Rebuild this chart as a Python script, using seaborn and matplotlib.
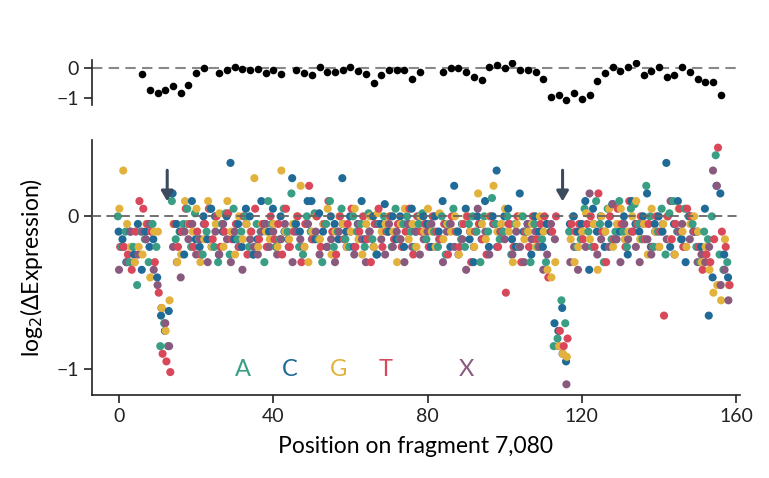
import numpy as np
import pandas as pd
import matplotlib
matplotlib.use("Agg")
import matplotlib.pyplot as plt
import seaborn as sns

nan = np.nan
top_idx = [0,1,2,3,4,5,6,7,8,10,11,12,13,14,15,16,17,18,20,21,22,23,24,25,26,27,28,29,30,31,32,33,34,35,36,39,40,41,42,43,44,45,46,47,48,49,50,51,52,53,54,55,56,57,58,59,60,61,62,63,64,65,66,67,68,69,70,71,72,73,74,75]
top_vals = [-0.2,-0.74,-0.84,-0.73,-0.6,-0.82,-0.56,-0.16,0.0,-0.16,-0.05,0.03,-0.03,-0.05,-0.03,-0.16,-0.05,-0.18,-0.07,-0.16,-0.22,0.05,-0.14,-0.14,-0.07,0.05,-0.1,-0.18,-0.48,-0.24,-0.05,-0.05,-0.07,-0.35,-0.14,-0.12,0.01,0.01,-0.14,-0.31,-0.39,0.03,0.12,0.01,0.16,-0.05,-0.07,-0.14,-0.35,-0.95,-0.88,-1.05,-0.82,-1.03,-0.9,-0.44,-0.16,0.05,-0.1,0.05,0.18,-0.22,-0.1,0.03,-0.29,-0.22,0.03,-0.12,-0.35,-0.46,-0.46,-0.9]
top_pos = [6 + 2*i for i in top_idx]

A = [0.0,-0.2,-0.1,-0.3,-0.2,-0.45,-0.1,-0.15,-0.3,-0.05,
-0.2,-0.85,-0.7,-0.85,0.1,-0.15,-0.1,-0.05,0.05,-0.2,
0.02,-0.15,-0.25,-0.1,0.05,-0.2,-0.3,-0.05,0.02,-0.25,
0.05,-0.15,-0.1,0.0,-0.2,-0.25,-0.05,-0.1,-0.3,0.1,
-0.05,-0.2,-0.15,0.05,-0.1,0.15,-0.05,-0.2,-0.25,0.0,
-0.1,0.02,-0.15,-0.3,-0.05,0.1,-0.2,-0.1,0.05,-0.15,
-0.2,0.0,-0.1,-0.05,-0.2,0.02,-0.15,-0.25,-0.05,0.0,
-0.1,-0.2,0.05,-0.15,-0.05,0.0,-0.1,-0.2,-0.05,0.02,
-0.15,-0.05,-0.1,-0.2,0.0,-0.25,-0.05,0.05,-0.1,-0.15,
-0.2,-0.05,0.0,-0.1,-0.3,0.0,-0.1,0.12,-0.05,-0.15,
-0.1,0.0,-0.25,-0.05,-0.2,0.0,-0.1,-0.3,-0.05,-0.2,
-0.15,-0.3,nan,-0.85,-0.8,-0.55,-0.7,-0.1,0.0,-0.2,
-0.15,0.05,-0.1,-0.2,0.1,-0.05,-0.3,0.05,-0.15,-0.1,
0.1,-0.1,-0.2,0.05,0.08,-0.05,-0.15,0.2,0.0,-0.2,
-0.1,0.05,-0.25,0.02,0.1,-0.1,-0.15,0.05,0.0,-0.05,
-0.2,-0.3,-0.1,-0.15,0.0,0.4,-0.25,-0.35,-0.3,nan]
C = [-0.1,-0.15,-0.3,-0.1,-0.25,-0.05,-0.35,-0.1,-0.2,-0.15,
-0.4,-0.65,-0.75,-0.62,0.15,-0.05,-0.1,-0.25,-0.05,0.1,
-0.15,-0.2,0.0,-0.15,0.05,0.0,-0.25,-0.1,0.0,0.35,
-0.15,-0.05,-0.2,0.05,0.0,-0.25,-0.15,0.1,-0.05,-0.1,
0.05,-0.2,0.0,-0.1,-0.15,0.25,-0.05,-0.1,-0.2,0.1,
0.1,-0.15,0.02,-0.1,-0.2,0.0,-0.05,-0.15,0.25,-0.1,
0.0,-0.2,-0.05,0.1,-0.15,-0.1,0.0,-0.25,-0.05,0.08,
-0.1,0.0,-0.15,0.0,-0.2,-0.05,0.05,-0.1,0.0,0.0,
-0.05,-0.2,0.0,-0.1,0.1,-0.05,-0.2,0.2,-0.1,-0.05,
0.05,-0.15,-0.3,0.0,-0.05,0.1,-0.2,0.0,0.3,-0.1,
0.0,0.05,-0.15,-0.2,0.15,-0.1,-0.05,-0.25,0.0,-0.1,
-0.2,-0.05,-0.1,-0.7,-0.75,-0.6,-0.95,-0.05,0.0,-0.1,
-0.05,0.1,-0.35,0.05,-0.1,0.0,-0.2,-0.05,0.08,-0.15,
-0.1,0.0,-0.25,0.1,-0.05,-0.1,0.0,0.15,-0.2,-0.05,
0.0,-0.1,0.35,-0.2,-0.05,0.1,-0.15,-0.3,0.0,-0.1,
-0.1,-0.2,0.05,-0.65,-0.4,0.2,0.15,-0.25,-0.4,nan]
G = [0.05,0.3,-0.05,-0.2,-0.3,-0.2,-0.25,-0.05,-0.4,-0.1,
-0.1,-0.6,-0.75,-0.55,-0.05,-0.3,-0.25,0.1,-0.05,-0.1,
0.05,-0.3,-0.15,0.1,-0.2,-0.05,0.02,-0.2,0.1,-0.1,
-0.25,0.0,-0.15,-0.05,-0.1,0.25,-0.2,-0.05,-0.1,-0.15,
-0.05,-0.2,0.3,-0.1,-0.15,-0.05,0.0,0.2,-0.2,-0.3,
-0.1,0.0,-0.15,-0.05,0.05,-0.25,-0.1,0.0,-0.05,-0.2,
-0.1,0.05,-0.15,-0.25,-0.05,0.0,-0.2,0.02,-0.1,-0.05,
0.0,-0.1,-0.3,-0.05,0.05,-0.15,-0.05,-0.2,0.0,-0.1,
0.05,-0.1,-0.2,0.02,-0.15,-0.05,-0.1,0.0,-0.25,-0.05,
0.0,-0.1,-0.2,0.15,-0.05,-0.15,0.0,0.2,-0.1,-0.05,
0.05,-0.1,-0.3,-0.05,0.0,-0.15,-0.1,-0.05,-0.2,0.0,
-0.1,-0.35,-0.4,-0.3,-0.85,-0.9,-0.92,-0.15,-0.3,-0.2,
-0.1,0.02,-0.15,-0.05,-0.35,0.0,-0.1,0.05,-0.2,-0.05,
0.05,-0.15,-0.1,0.0,0.1,-0.15,-0.05,-0.25,0.05,-0.1,
-0.2,-0.05,0.0,-0.15,-0.25,0.05,-0.1,-0.2,-0.05,0.0,
-0.1,-0.3,-0.2,-0.35,-0.5,-0.45,-0.55,-0.15,-0.45,nan]
T = [-0.2,-0.2,-0.25,-0.35,-0.1,0.1,0.05,-0.05,-0.1,-0.3,
-0.5,-0.9,-0.95,-1.02,-0.05,-0.2,-0.1,0.05,-0.05,-0.2,
-0.1,-0.25,-0.05,0.05,-0.15,0.0,-0.2,-0.1,0.02,-0.15,
-0.05,-0.2,0.0,-0.25,-0.1,0.05,-0.15,-0.05,-0.2,0.0,
-0.15,-0.05,-0.25,0.05,-0.2,-0.1,0.0,-0.3,-0.05,0.2,
-0.15,0.0,-0.2,-0.05,0.1,-0.1,-0.25,0.0,-0.15,-0.05,
0.05,-0.2,-0.1,0.0,-0.15,-0.3,-0.05,0.05,-0.2,-0.1,
0.0,-0.15,-0.05,-0.2,-0.1,0.05,-0.25,0.0,-0.1,-0.05,
-0.2,0.0,-0.1,-0.15,-0.05,-0.25,0.0,-0.1,-0.2,-0.05,
0.0,-0.3,-0.1,-0.05,-0.15,-0.25,0.0,-0.05,-0.2,-0.1,
-0.5,-0.05,-0.2,0.0,-0.3,-0.1,-0.2,0.0,-0.15,-0.05,
0.0,-0.4,-0.1,0.0,-0.75,-0.85,-0.8,-0.05,-0.1,-0.05,
-0.15,-0.05,0.0,-0.2,0.15,-0.1,-0.3,0.0,-0.15,0.05,
-0.05,-0.2,0.1,-0.1,-0.05,0.0,-0.15,-0.05,-0.2,0.0,
-0.1,-0.65,0.0,-0.15,-0.05,0.05,-0.2,0.05,0.0,-0.1,
-0.2,-0.35,-0.25,-0.3,-0.15,0.45,-0.1,-0.2,-0.45,nan]
X = [-0.35,-0.2,-0.3,-0.1,-0.3,-0.25,-0.1,-0.15,-0.05,-0.35,
-0.45,-0.6,-0.7,-0.85,-0.2,-0.3,-0.4,-0.1,-0.15,-0.05,
-0.25,-0.15,-0.05,-0.3,-0.2,-0.1,-0.25,-0.05,-0.15,-0.3,
-0.1,-0.2,-0.35,-0.05,-0.15,-0.2,-0.25,-0.1,-0.05,-0.2,
-0.1,-0.25,-0.15,-0.05,-0.2,-0.3,-0.1,-0.15,-0.2,-0.05,
-0.15,-0.1,-0.25,-0.05,-0.2,-0.15,-0.3,-0.1,-0.05,-0.2,
-0.1,-0.25,-0.05,-0.15,-0.3,-0.1,-0.2,-0.05,-0.15,-0.25,
-0.05,-0.2,-0.1,-0.15,-0.3,-0.05,-0.2,-0.1,-0.25,-0.15,
-0.1,-0.05,-0.2,-0.15,-0.3,-0.1,-0.05,-0.2,-0.25,-0.15,
-0.35,-0.1,-0.2,0.05,-0.15,-0.1,-0.25,-0.05,-0.2,-0.1,
-0.15,-0.05,-0.25,-0.1,-0.2,-0.3,-0.05,-0.15,-0.1,-0.2,
-0.35,-0.25,-0.05,-0.15,-0.85,-0.9,-1.1,-0.3,-0.2,-0.35,
-0.1,-0.2,0.15,-0.05,-0.25,-0.15,-0.1,-0.2,0.08,-0.15,
-0.3,-0.05,-0.15,-0.1,-0.2,-0.3,-0.05,-0.15,-0.25,-0.1,
-0.2,-0.05,-0.15,0.1,-0.25,-0.1,-0.05,-0.2,-0.15,-0.1,
-0.3,-0.25,-0.3,-0.2,0.3,0.2,-0.45,-0.35,-0.55,nan]

letters = ["A", "C", "G", "T", "X"]
colors = ["#3a9e85", "#1f6a96", "#e3b23c", "#d9475a", "#8a5a7e"]
base_offset = [-0.3, -0.1, 0.1, 0.3, 0.0]   # small horizontal separation per base
label_pos = [32, 44.3, 57, 69, 90]
arrow_pos = [12.5, 115]

positions = np.arange(160)
df = pd.concat([pd.DataFrame({"pos": positions + o, "val": v, "base": b})
                for b, v, o in zip(letters, [A, C, G, T, X], base_offset)]).dropna()
df = df.sort_values("pos", kind="stable")
top_df = pd.DataFrame({"pos": top_pos, "val": top_vals})

plt.rcParams["font.family"] = "Lato"
fig = plt.figure(figsize=(7.69, 4.78), dpi=100)
W, H = 769, 478
ax_top = fig.add_axes([92/W, 1-105/H, (740-92)/W, 45/H])
ax = fig.add_axes([92/W, 1-395/H, (740-92)/W, 255/H])

sns.scatterplot(data=top_df, x="pos", y="val", ax=ax_top, color="black",
                s=30, linewidth=0, legend=False, zorder=3)
ax_top.axhline(0, color="#888888", ls=(0, (5, 3)), lw=1.5, zorder=1)
ax_top.set_xlim(-7, 161)
ax_top.set_ylim(-1.23, 0.27)
ax_top.set_yticks([0, -1])
ax_top.set_yticklabels(["0", "−1"])
ax_top.set_xticks([])
ax_top.set_xlabel(""); ax_top.set_ylabel("")
for s in ["top", "right", "bottom"]:
    ax_top.spines[s].set_visible(False)

sns.scatterplot(data=df, x="pos", y="val", hue="base", hue_order=letters,
                palette=colors, ax=ax, s=34, linewidth=0, legend=False, zorder=3)
ax.axhline(0, color="#666666", ls=(0, (5, 3)), lw=1.3, zorder=4)
ax.set_xlim(-7, 161)
ax.set_ylim(-1.17, 0.5)
ax.set_yticks([0, -1])
ax.set_yticklabels(["0", "−1"])
ax.set_xticks([0, 40, 80, 120, 160])
ax.set_xlabel("Position on fragment 7,080", fontsize=16.5, labelpad=8)
ax.set_ylabel("log$_2$(ΔExpression)", fontsize=16.5, labelpad=8)
for s in ["top", "right"]:
    ax.spines[s].set_visible(False)
for a in (ax, ax_top):
    a.tick_params(labelsize=14, width=1.2, length=6, colors="#222222")
    for s in a.spines.values():
        s.set_color("#222222")
        s.set_linewidth(1.2)

for l, c, p in zip(letters, colors, label_pos):
    ax.text(p, -1.0, l, color=c, fontsize=17, ha="center", va="center")
for p in arrow_pos:
    ax.annotate("", xy=(p, 0.08), xytext=(p, 0.32),
                arrowprops=dict(arrowstyle="-|>,head_width=0.35,head_length=0.6",
                                color="#3c4a5e", lw=2.2))

fig.savefig("out.png", dpi=100)
